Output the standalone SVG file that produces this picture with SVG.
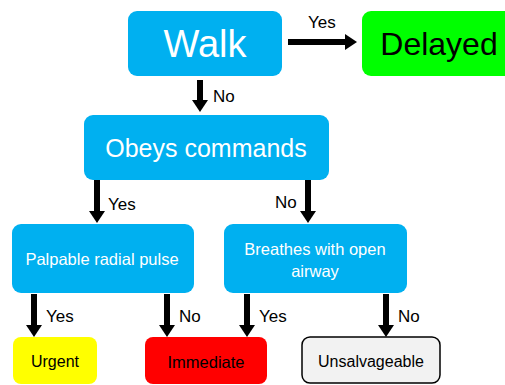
<svg xmlns="http://www.w3.org/2000/svg" width="505" height="385" viewBox="0 0 505 385">
<style>
.blue{fill:#00b0f0}
.t{font-family:"Liberation Sans",Arial,sans-serif;text-anchor:middle}
.w{fill:#ffffff}
.k{fill:#000000}
.lbl{font-family:"Liberation Sans",Arial,sans-serif;font-size:17px;fill:#000}
.c{stroke:#000;stroke-width:6;fill:none;marker-end:url(#ah)}
</style>
<defs>
<marker id="ah" markerUnits="userSpaceOnUse" markerWidth="16" markerHeight="16" viewBox="0 0 12 16" refX="1" refY="8" orient="auto">
<path d="M0,0 L12,8 L0,16 Z" fill="#000"/>
</marker>
</defs>
<rect width="505" height="385" fill="#fff"/>
<g id="connectors">
<line class="c" x1="288" y1="42" x2="346" y2="42"/>
<line class="c" x1="200" y1="80" x2="200" y2="101"/>
<line class="c" x1="97" y1="180" x2="97" y2="212"/>
<line class="c" x1="308" y1="180" x2="308" y2="212"/>
<line class="c" x1="34" y1="294" x2="34" y2="326"/>
<line class="c" x1="167" y1="294" x2="167" y2="326"/>
<line class="c" x1="247" y1="294" x2="247" y2="326"/>
<line class="c" x1="386" y1="294" x2="386" y2="326"/>
<text class="lbl" x="308" y="28">Yes</text>
<text class="lbl" x="213" y="102">No</text>
<text class="lbl" x="108" y="210">Yes</text>
<text class="lbl" x="275" y="208">No</text>
<text class="lbl" x="46" y="322">Yes</text>
<text class="lbl" x="179" y="322">No</text>
<text class="lbl" x="259" y="322">Yes</text>
<text class="lbl" x="398" y="322">No</text>
</g>
<g id="walk">
<rect class="blue" x="128" y="11" width="154" height="65" rx="9"/>
<text class="t w" x="205" y="57" font-size="38">Walk</text>
</g>
<g id="delayed">
<rect x="362" y="11" width="154" height="65" rx="9" fill="#00ff00"/>
<text class="t k" x="439" y="55" font-size="32">Delayed</text>
</g>
<g id="obeys">
<rect class="blue" x="84" y="115" width="245" height="65" rx="9"/>
<text class="t w" x="206" y="157" font-size="25">Obeys commands</text>
</g>
<g id="palpable">
<rect class="blue" x="12" y="224" width="182" height="69" rx="9"/>
<text class="t w" x="102" y="265" font-size="16.5">Palpable radial pulse</text>
</g>
<g id="breathes">
<rect class="blue" x="224" y="224" width="183" height="69" rx="9"/>
<text class="t w" x="315" y="255" font-size="16.5">Breathes with open</text>
<text class="t w" x="315" y="277" font-size="16.5">airway</text>
</g>
<g id="urgent">
<rect x="13" y="337" width="84" height="47" rx="8" fill="#ffff00"/>
<text class="t k" x="55" y="367" font-size="16">Urgent</text>
</g>
<g id="immediate">
<rect x="145" y="337" width="122" height="47" rx="8" fill="#ff0000"/>
<text class="t k" x="206" y="368" font-size="16.5">Immediate</text>
</g>
<g id="unsalvageable">
<rect x="302" y="337" width="138" height="46" rx="8" fill="#f2f2f2" stroke="#000" stroke-width="1.5"/>
<text class="t k" x="371" y="367" font-size="16">Unsalvageable</text>
</g>
</svg>
